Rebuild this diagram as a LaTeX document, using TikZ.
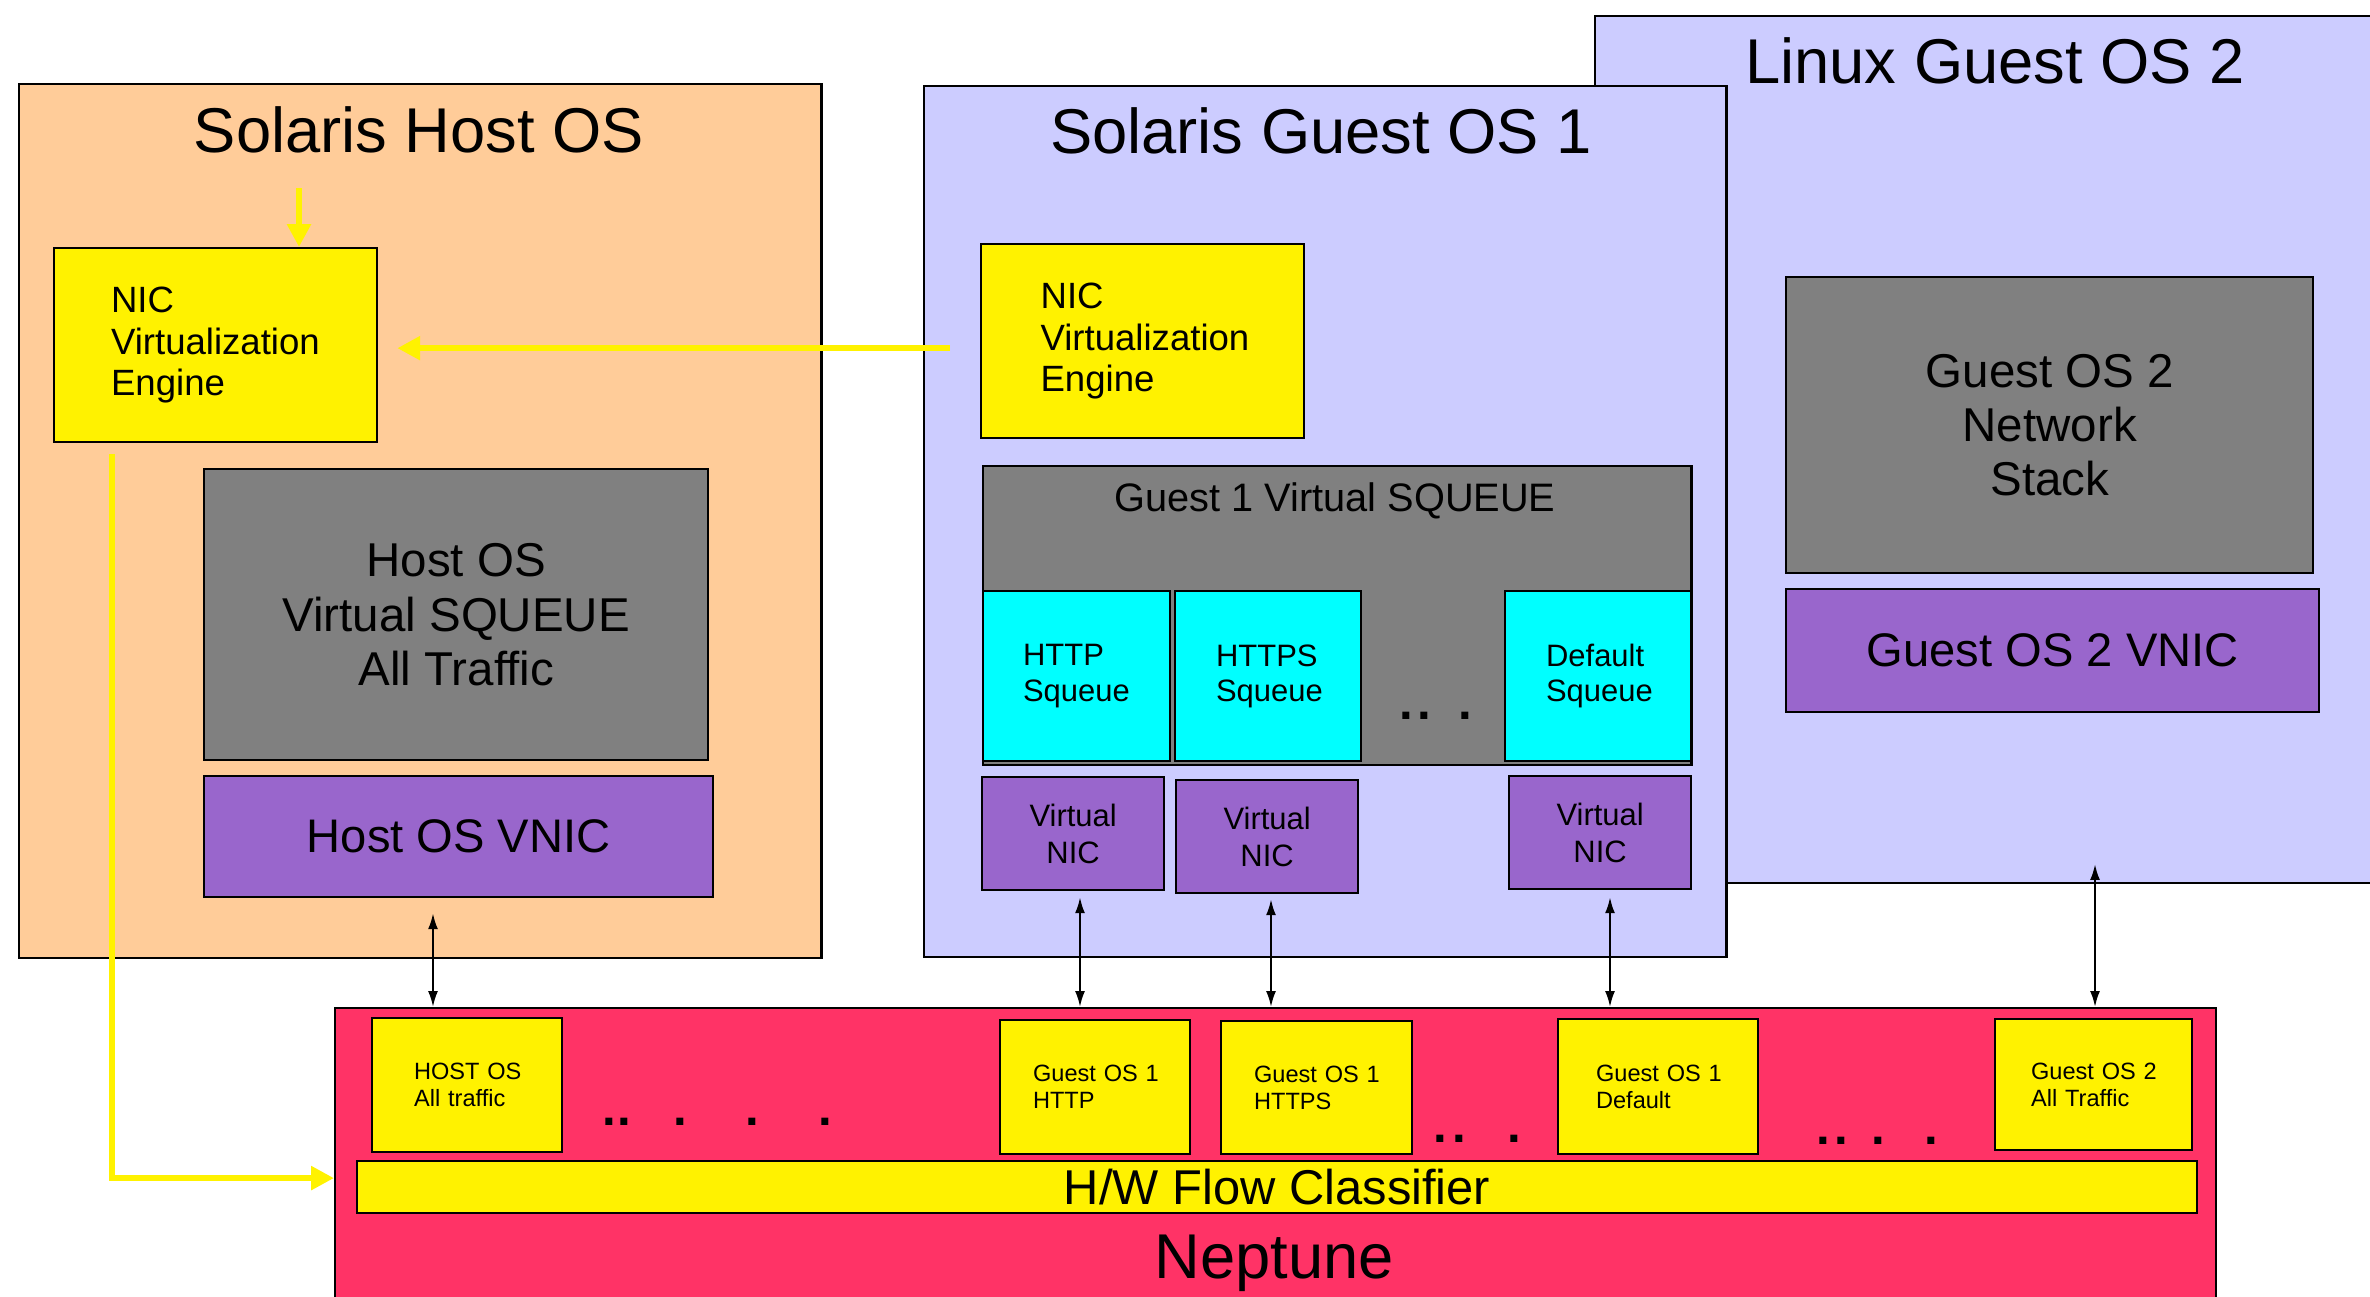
\documentclass[tikz,border=0pt]{standalone}
\usepackage{fontspec}
\setmainfont{Liberation Sans}
\usetikzlibrary{arrows.meta}

\definecolor{hostbg}{HTML}{FFCC99}
\definecolor{guestbg}{HTML}{CCCCFF}
\definecolor{stackgray}{HTML}{808080}
\definecolor{vnicpurple}{HTML}{9966CC}
\definecolor{squeuecyan}{HTML}{00FFFF}
\definecolor{neptunered}{HTML}{FF3366}

\newcommand{\fs}[2]{\fontsize{#1}{#2}\selectfont}

\begin{document}
\begin{tikzpicture}[x=0.01cm, y=-0.01cm,
    box/.style={draw, line width=0.6pt, anchor=north west, inner sep=0pt},
    ostitle/.style={anchor=base, font=\fs{18}{22}},
    engine/.style={box, fill=yellow, minimum width=3.23cm, minimum height=1.94cm,
        align=left, inner xsep=0.57cm, text width=2.09cm, font=\fs{10.4}{11.7}},
    bigq/.style={box, fill=stackgray, align=center, font=\fs{13.5}{15.4}},
    bignic/.style={box, fill=vnicpurple, align=center, font=\fs{13.4}{16}},
    squeue/.style={box, fill=squeuecyan, minimum width=1.86cm, minimum height=1.70cm,
        align=left, inner xsep=0.41cm, text width=1.04cm, font=\fs{8.8}{10}},
    vnic/.style={box, fill=vnicpurple, minimum width=1.82cm, minimum height=1.13cm,
        align=center, font=\fs{8.8}{10.5}},
    flowbox/.style={box, fill=yellow, minimum height=1.34cm, align=left, font=\fs{6.7}{7.7}},
    ellip/.style={font=\bfseries\fs{14}{14}, inner sep=0pt},
    flow/.style={draw=yellow, line width=1.8pt, -{Triangle[length=6.5pt,width=6.5pt]}},
    link/.style={line width=0.6pt, {Latex[length=4.5pt,width=2.8pt]}-{Latex[length=4.5pt,width=2.8pt]}}]

    \useasboundingbox (0,0) rectangle (2370,1296);

    % OS containers
    \node[box, fill=guestbg, minimum width=7.90cm, minimum height=8.66cm] (linux) at (1594,15) {};
    \node[box, fill=hostbg, minimum width=8.02cm, minimum height=8.73cm] (host) at (18,83) {};
    \node[box, fill=guestbg, minimum width=8.02cm, minimum height=8.70cm] (guest) at (923,85) {};
    \node[box, fill=neptunered, minimum width=18.80cm, minimum height=3.05cm] (neptune) at (334,1007) {};

    \node[ostitle] (hosttitle) at (419,152) {Solaris Host OS};
    \node[ostitle] (guesttitle) at (1321,153) {Solaris Guest OS 1};
    \node[ostitle] (linuxtitle) at (1995,83) {Linux Guest OS 2};

    % Host OS
    \node[engine] (hostnic) at (53,247) {NIC\\Virtualization\\Engine};
    \node[bigq, minimum width=5.04cm, minimum height=2.91cm] (hostq) at (203,468)
        {Host OS\\Virtual SQUEUE\\All Traffic};
    \node[bignic, minimum width=5.09cm, minimum height=1.21cm] (hostvnic) at (203,775) {Host OS VNIC};

    % Guest OS 1
    \node[engine, inner xsep=0.59cm, text width=2.04cm] (guestnic) at (980,243) {NIC\\Virtualization\\Engine};
    \node[box, fill=stackgray, minimum width=7.08cm, minimum height=2.99cm] (gqueue) at (982,465) {};
    \node[anchor=base, font=\fs{11.3}{13}] (gqueuetitle) at (1335,511) {Guest 1 Virtual SQUEUE};
    \node[squeue, minimum width=1.87cm, inner xsep=0.40cm, text width=1.07cm] (http) at (982,590) {HTTP\\Squeue};
    \node[squeue] (https) at (1174,590) {HTTPS\\Squeue};
    \node[squeue] (dflt) at (1504,590) {Default\\Squeue};
    \foreach \x [count=\i] in {1406,1424,1465}
        \node[ellip] (qdot\i) at (\x,716) {.};

    \node[vnic] (vnicA) at (981,776) {Virtual\\NIC};
    \node[vnic] (vnicB) at (1175,779) {Virtual\\NIC};
    \node[vnic] (vnicC) at (1508,775) {Virtual\\NIC};

    % Linux Guest OS 2
    \node[bigq, minimum width=5.27cm, minimum height=2.96cm] (stack) at (1785,276)
        {Guest OS 2\\Network\\Stack};
    \node[bignic, minimum width=5.33cm, minimum height=1.23cm] (g2vnic) at (1785,588) {Guest OS 2 VNIC};

    % Neptune
    \node[flowbox, minimum width=1.90cm, inner xsep=0.42cm, text width=1.06cm] (hostall) at (371,1017)
        {HOST~OS\\All~traffic};
    \node[flowbox, minimum width=1.90cm, inner xsep=0.33cm, text width=1.24cm] (g1http) at (999,1019)
        {Guest~OS~1\\HTTP};
    \node[flowbox, minimum width=1.91cm, minimum height=1.33cm, inner xsep=0.33cm, text width=1.25cm] (g1https) at (1220,1020)
        {Guest~OS~1\\HTTPS};
    \node[flowbox, minimum width=2.00cm, minimum height=1.35cm, inner xsep=0.38cm, text width=1.24cm] (g1dflt) at (1557,1018)
        {Guest~OS~1\\Default};
    \node[flowbox, minimum width=1.97cm, minimum height=1.31cm, inner xsep=0.36cm, text width=1.25cm] (g2all) at (1994,1018)
        {Guest~OS~2\\All~Traffic};
    \node[box, fill=yellow, minimum width=18.39cm, minimum height=0.52cm, font=\fs{13.9}{16}] (hwfc) at (356,1160)
        {H/W Flow Classifier};
    \node[ostitle] (neptunetitle) at (1274,1278) {Neptune};

    \foreach \x [count=\i] in {609,624,680,752,825}
        \node[ellip] (ndot\i) at (\x,1122) {.};
    \foreach \x [count=\i] in {1440,1459,1514}
        \node[ellip] (mdot\i) at (\x,1139) {.};
    \foreach \x [count=\i] in {1823,1841,1878,1931}
        \node[ellip] (rdot\i) at (\x,1141) {.};

    % NIC virtualization paths
    \coordinate (hostin) at (299,188);
    \draw[flow] (hostin) -- (hostin |- hostnic.north);
    \draw[flow, shorten <=0.30cm, shorten >=0.19cm] ([yshift=-2pt]guestnic.west) -- ([yshift=-2pt]guestnic.west -| hostnic.east);
    \coordinate (hostout) at (112,454);
    \path (neptune.west |- hwfc.center) ++(0,-9) coordinate (clsin);
    \draw[flow] (hostout) |- (clsin);

    % VNIC <-> classifier links
    \draw[link, shorten <=0.15cm] (hostvnic.south -| 433,0) -- (neptune.north -| 433,0);
    \draw[link, shorten <=0.06cm] (vnicA.south -| 1080,0) -- (neptune.north -| 1080,0);
    \draw[link, shorten <=0.05cm] (vnicB.south -| 1271,0) -- (neptune.north -| 1271,0);
    \draw[link, shorten <=0.07cm] (vnicC.south -| 1610,0) -- (neptune.north -| 1610,0);
    \coordinate (g2link) at (2095,864);
    \draw[link] (g2link) -- (g2link |- neptune.north);

\end{tikzpicture}
\end{document}
